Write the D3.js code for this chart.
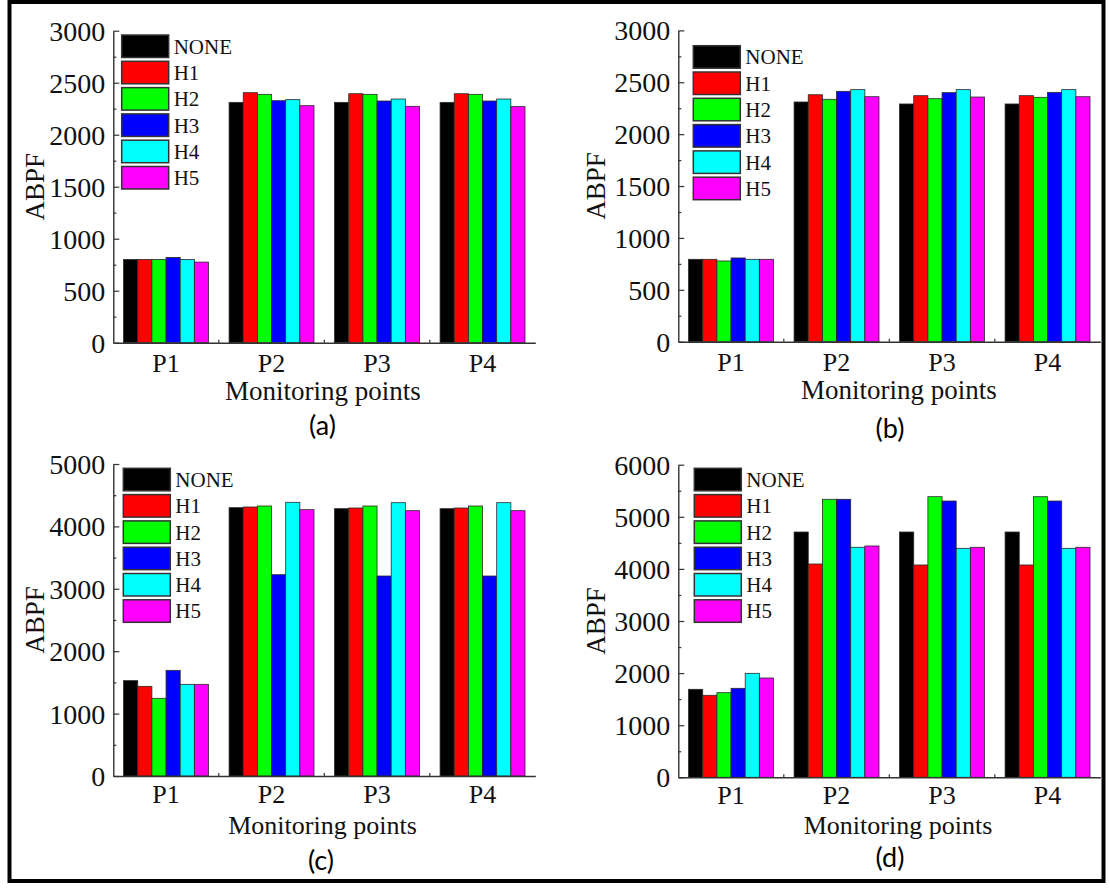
<!DOCTYPE html>
<html><head><meta charset="utf-8">
<script src="https://cdn.jsdelivr.net/npm/d3@7"></script>
<style>
html,body{margin:0;padding:0;background:#fff;}
svg{display:block;}
</style></head>
<body>
<svg id="chart" width="1110" height="888"></svg>
<script>
// ---------- data ----------
const categories = ["P1", "P2", "P3", "P4"];
const seriesNames = ["NONE", "H1", "H2", "H3", "H4", "H5"];
const seriesColors = ["#000000", "#ff0000", "#00ff00", "#0000ff", "#00ffff", "#ff00ff"];

// rows = series (NONE,H1..H5), columns = P1..P4
const valuesA = [
  [800, 2311, 2311, 2311],
  [800, 2404, 2394, 2394],
  [800, 2388, 2388, 2388],
  [820, 2327, 2324, 2324],
  [800, 2337, 2343, 2343],
  [775, 2279, 2273, 2270]
];
const valuesB = [
  [794, 2310, 2291, 2291],
  [794, 2380, 2371, 2371],
  [778, 2336, 2342, 2355],
  [807, 2413, 2400, 2403],
  [794, 2429, 2429, 2429],
  [794, 2361, 2358, 2361]
];
const valuesC = [
  [1528, 4300, 4284, 4284],
  [1437, 4311, 4295, 4295],
  [1245, 4327, 4327, 4327],
  [1693, 3226, 3205, 3205],
  [1469, 4386, 4380, 4380],
  [1469, 4268, 4252, 4252]
];
const valuesD = [
  [1689, 4708, 4708, 4708],
  [1574, 4094, 4075, 4075],
  [1624, 5336, 5386, 5386],
  [1708, 5336, 5303, 5303],
  [1996, 4415, 4395, 4395],
  [1906, 4440, 4415, 4415]
];
const ticksAB = [0, 500, 1000, 1500, 2000, 2500, 3000];
const ticksC = [0, 1000, 2000, 3000, 4000, 5000];
const ticksD = [0, 1000, 2000, 3000, 4000, 5000, 6000];
const yTitle = "ABPF";
const xTitle = "Monitoring points";
const panelLabels = ["(a)", "(b)", "(c)", "(d)"];

// ---------- layout ----------
const serif = "'Liberation Serif','Times New Roman',serif";
const panels = [
  {values: valuesA, ticks: ticksAB, max: 3000, x0: 113.3, x1: 535.3, y0: 342.7, y1: 30.7,
   leg: [121.7, 35], ytX: 44, ytY: 186.7, mtX: 323, mtY: 400, plX: 322.5, plY: 435, label: panelLabels[0]},
  {values: valuesB, ticks: ticksAB, max: 3000, x0: 678.3, x1: 1100.3, y0: 341.7, y1: 30.4,
   leg: [693.3, 45.7], ytX: 605, ytY: 186, mtX: 899, mtY: 398.5, plX: 890, plY: 438, label: panelLabels[1]},
  {values: valuesC, ticks: ticksC, max: 5000, x0: 113.3, x1: 535.3, y0: 776, y1: 464,
   leg: [123.3, 468.3], ytX: 44, ytY: 620, mtX: 322.5, mtY: 834, plX: 321, plY: 870, label: panelLabels[2]},
  {values: valuesD, ticks: ticksD, max: 6000, x0: 678.3, x1: 1100.3, y0: 777.3, y1: 464.7,
   leg: [694.3, 468.3], ytX: 605, ytY: 621, mtX: 898, mtY: 834, plX: 890, plY: 867, label: panelLabels[3]}
];

const svg = d3.select("#chart");
svg.append("rect").attr("width", 1110).attr("height", 888).attr("fill", "#fff");

// outer frame
svg.append("rect").attr("x", 9.5).attr("y", 2).attr("width", 1094).attr("height", 879)
  .attr("fill", "none").attr("stroke", "#000").attr("stroke-width", 4);

function ink(sel) {
  return sel.attr("fill", "#111").attr("stroke", "none");
}

panels.forEach((p, pi) => {
  const g = svg.append("g");
  const x = d3.scaleBand().domain(categories).range([p.x0, p.x1]).paddingInner(0.195).paddingOuter(0.0975);
  const xs = d3.scaleBand().domain(seriesNames).range([0, x.bandwidth()]);
  const y = d3.scaleLinear().domain([0, p.max]).range([p.y0, p.y1]);
  const bottomRow = pi >= 2;

  // bars
  seriesNames.forEach((s, si) => {
    g.append("g").selectAll("rect").data(categories).join("rect")
      .attr("x", (c) => x(c) + xs(s))
      .attr("width", xs.bandwidth())
      .attr("y", (c, ci) => y(p.values[si][ci]))
      .attr("height", (c, ci) => y(0) - y(p.values[si][ci]))
      .attr("fill", seriesColors[si])
      .attr("stroke", "#2a2a2a").attr("stroke-width", 0.8);
  });

  // minor y ticks
  const step = p.ticks[1] - p.ticks[0];
  const minor = p.ticks.slice(0, -1).map(t => t + step / 2);
  const minorAxis = d3.axisLeft(y).tickValues(minor).tickSize(-3).tickFormat("");
  g.append("g").attr("transform", `translate(${p.x0},0)`).call(minorAxis)
    .call(a => a.select(".domain").remove())
    .selectAll("line").attr("stroke", "#333").attr("stroke-width", 1.2);

  // y axis
  const yAxis = d3.axisLeft(y).tickValues(p.ticks).tickSize(-6).tickSizeOuter(0).tickPadding(8).tickFormat(d3.format("d"));
  const ya = g.append("g").attr("transform", `translate(${p.x0},0)`).call(yAxis);
  ya.select(".domain").attr("stroke", "#333").attr("stroke-width", 1.4);
  ya.selectAll("line").attr("stroke", "#333").attr("stroke-width", 1.2);
  ink(ya.selectAll("text").attr("font-family", serif).attr("font-size", 28).attr("dy", "0.34em"));

  // x axis
  const xAxis = d3.axisBottom(x).tickSize(0).tickSizeOuter(0).tickPadding(0);
  const xa = g.append("g").attr("transform", `translate(0,${p.y0})`).call(xAxis);
  xa.select(".domain").attr("stroke", "#333").attr("stroke-width", 1.4);
  ink(xa.selectAll("text").attr("font-family", serif).attr("font-size", 26)
    .attr("y", bottomRow ? 27 : 29).attr("dy", 0));
  // small boundary ticks between groups
  const gap = x.step() * x.paddingInner();
  g.append("g").selectAll("line").data(categories.slice(1)).join("line")
    .attr("x1", c => x(c) - gap / 2).attr("x2", c => x(c) - gap / 2)
    .attr("y1", p.y0).attr("y2", p.y0 - 3)
    .attr("stroke", "#333").attr("stroke-width", 1.2);

  // axis titles
  ink(g.append("text").attr("transform", `translate(${p.ytX},${p.ytY}) rotate(-90)`)
    .attr("text-anchor", "middle").attr("font-family", serif).attr("font-size", 27)
    .text(yTitle));
  ink(g.append("text").attr("x", p.mtX).attr("y", p.mtY).attr("text-anchor", "middle")
    .attr("font-family", serif).attr("font-size", bottomRow ? 26 : 27).text(xTitle));
  g.append("text").attr("x", p.plX).attr("y", p.plY).attr("text-anchor", "middle")
    .attr("font-family", "Lato, 'Open Sans', sans-serif").attr("font-size", 27).attr("fill", "#000").text(p.label);

  // legend
  const lg = g.append("g").attr("transform", `translate(${p.leg[0]},${p.leg[1]})`);
  const pitch = 26.3, sw = 47, sh = 22.5;
  const items = lg.selectAll("g").data(seriesNames).join("g")
    .attr("transform", (d, i) => `translate(0,${i * pitch})`);
  items.append("rect").attr("width", sw).attr("height", sh)
    .attr("fill", (d, i) => seriesColors[i]).attr("stroke", "#333").attr("stroke-width", 1.5);
  ink(items.append("text").attr("x", sw + 5).attr("y", sh / 2).attr("dy", "0.35em")
    .attr("font-family", serif).attr("font-size", 21).text(d => d));
});
</script>
</body></html>
